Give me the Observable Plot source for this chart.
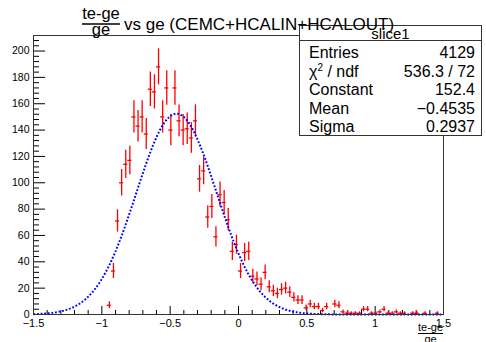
<!DOCTYPE html>
<html><head><meta charset="utf-8">
<script src="https://cdn.jsdelivr.net/npm/d3@7"></script>
<script src="https://cdn.jsdelivr.net/npm/@observablehq/plot@0.6"></script>
<style>
html,body{margin:0;padding:0;background:#fff;}
#chart{position:relative;width:486px;height:342px;overflow:hidden;}
svg{display:block}
</style></head><body><div id="chart"></div>
<script>
// ---- data ----
const titleNumerator = "te-ge";
const titleDenominator = "ge";
const titleRest = "vs ge (CEMC+HCALIN+HCALOUT)";
const xTitleNumerator = "te-ge";
const xTitleDenominator = "ge";
const xMin = -1.5, xMax = 1.5, nBins = 100;
const yMax = 211.8;
// bin contents, bins 0..99 of width 0.03 from -1.5 to 1.5
const counts = [
  0,0,0,0,0,0,0,0,0,0,
  0,0,0,0,0,0,0,0,7,33,
  71,100,114,117,150,143,150,137,171,169,
  188,150,172,140,172,147,140,141,134,147,
  103,109,74,82,59,91,85,72,48,53,
  33,47,48,29,27,23,32,21,18,16,
  19,20,17,13,11,11,5,8,6,6,
  3,6,0,8,7,2,1,1,1,1,
  4,4,1,1,2,4,1,1,2,1,
  1,0,1,1,0,1,0,0,1,0
];
const xMajorTicks = [-1.5, -1, -0.5, 0, 0.5, 1, 1.5];
const yMajorTicks = [0, 20, 40, 60, 80, 100, 120, 140, 160, 180, 200];
const statsTitle = "slice1";
const statNames = ["Entries", "χ2 / ndf", "Constant", "Mean", "Sigma"];
const statValues = ["4129", "536.3 / 72", "152.4", "\u22120.4535", "0.2937"];
const fitConstant = 152.4, fitMean = -0.4535, fitSigma = 0.2937;

// ---- layout ----
const W = 486, H = 342, mL = 33, mR = 43, mT = 35, mB = 28;
const pxX = (W - mL - mR) / (xMax - xMin);
const pxY = (H - mT - mB) / yMax;
const binW = (xMax - xMin) / nBins;
const xMinorTicks = d3.range(-15, 16).map(i => i / 10).filter(v => !xMajorTicks.some(m => Math.abs(m - v) < 1e-9));
const yMinorTicks = d3.range(0, 212, 4).filter(v => v % 20 !== 0);

const hist = counts.map((c, i) => ({
  lo: xMin + i * binW, hi: xMin + (i + 1) * binW, x: xMin + (i + 0.5) * binW, c, e: Math.sqrt(c)
})).filter(d => d.c > 0);
const fit = d3.range(0, 601).map(i => {
  const x = xMin + i * (xMax - xMin) / 600;
  return {x, y: fitConstant * Math.exp(-0.5 * ((x - fitMean) / fitSigma) ** 2)};
});
const fmt = d => String(d).replace("-", "\u2212");
const FONT = "'Liberation Sans', Arial, Helvetica, sans-serif";

const chart = Plot.plot({
  width: W, height: H,
  marginLeft: mL, marginRight: mR, marginTop: mT, marginBottom: mB,
  style: {fontFamily: FONT, fontSize: "11px", background: "#fff", color: "#000", overflow: "visible"},
  x: {domain: [xMin, xMax]},
  y: {domain: [0, yMax]},
  marks: [
    Plot.ruleY(yMajorTicks, {x1: xMin, x2: xMin + 12 / pxX, stroke: "#000"}),
    Plot.ruleY(yMinorTicks, {x1: xMin, x2: xMin + 6 / pxX, stroke: "#000"}),
    Plot.ruleX(xMajorTicks, {y1: 0, y2: 8 / pxY, stroke: "#000"}),
    Plot.ruleX(xMinorTicks, {y1: 0, y2: 4 / pxY, stroke: "#000"}),
    Plot.ruleX(hist, {x: "x", y1: d => Math.max(0, d.c - d.e), y2: d => d.c + d.e, stroke: "#f00", strokeWidth: 1.3}),
    Plot.ruleY(hist, {y: "c", x1: "lo", x2: "hi", stroke: "#f00", strokeWidth: 1.3}),
    Plot.line(fit, {x: "x", y: "y", stroke: "#00f", strokeWidth: 2, strokeDasharray: "1.8,1.8", strokeLinecap: "butt", strokeLinejoin: "miter"}),
    Plot.frame({stroke: "#333"}),
    Plot.axisX(xMajorTicks, {tickSize: 0, tickPadding: 5, tickFormat: fmt, fontSize: 11}),
    Plot.axisY(yMajorTicks, {tickSize: 0, tickPadding: 4, fontSize: 10.5})
  ]
});
document.getElementById("chart").appendChild(chart);

// ---- overlays: stats box, title, x-axis title ----
const svg = d3.select(chart);
const g = svg.append("g").attr("font-family", FONT).attr("fill", "#000").attr("text-anchor", "start");
// stats box
const bx = 299.5, by = 25.5, bw = 182, bh = 110;
g.append("rect").attr("x", bx).attr("y", by).attr("width", bw).attr("height", bh)
  .attr("fill", "#fff").attr("stroke", "#333");
g.append("line").attr("x1", bx).attr("x2", bx + bw).attr("y1", 40.5).attr("y2", 40.5).attr("stroke", "#333");
g.append("text").attr("x", bx + bw / 2).attr("y", 39).attr("text-anchor", "middle")
  .attr("font-size", 15).text(statsTitle);
statNames.forEach((n, i) => {
  const y = 58 + i * 18.5;
  const t = g.append("text").attr("x", 309).attr("y", y).attr("text-anchor", "start").attr("font-size", 16);
  if (n.startsWith("χ2")) {
    t.append("tspan").text("χ");
    t.append("tspan").attr("font-size", 10).attr("dy", -6).text("2");
    t.append("tspan").attr("dy", 6).text(n.slice(2));
  } else t.text(n);
  g.append("text").attr("x", 475).attr("y", y).attr("text-anchor", "end")
    .attr("font-size", 16).text(statValues[i]);
});
// title
const tg = svg.append("g").attr("font-family", FONT).attr("fill", "#000");
tg.append("text").attr("x", 101).attr("y", 19).attr("text-anchor", "middle").attr("font-size", 16.5).text(titleNumerator);
tg.append("line").attr("x1", 82).attr("x2", 120).attr("y1", 24).attr("y2", 24).attr("stroke", "#000").attr("stroke-width", 1.5);
tg.append("text").attr("x", 101).attr("y", 35).attr("text-anchor", "middle").attr("font-size", 16.5).text(titleDenominator);
tg.append("text").attr("x", 124).attr("y", 30).attr("text-anchor", "start").attr("font-size", 17).text(titleRest);
// x-axis title
const xg = svg.append("g").attr("font-family", FONT).attr("fill", "#000");
xg.append("text").attr("x", 430.5).attr("y", 331).attr("text-anchor", "middle").attr("font-size", 11).text(xTitleNumerator);
xg.append("line").attr("x1", 418).attr("x2", 443).attr("y1", 333.5).attr("y2", 333.5).attr("stroke", "#000");
xg.append("text").attr("x", 430.5).attr("y", 343).attr("text-anchor", "middle").attr("font-size", 11).text(xTitleDenominator);
</script></body></html>
